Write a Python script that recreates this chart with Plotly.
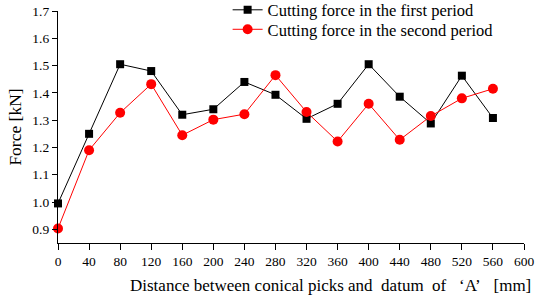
import plotly.graph_objects as go

distance = [0, 40, 80, 120, 160, 200, 240, 280, 320, 360, 400, 440, 480, 520, 560]
first_period = [0.995, 1.25, 1.505, 1.48, 1.32, 1.34, 1.44, 1.393, 1.305, 1.36, 1.505, 1.386, 1.288, 1.463, 1.308]
second_period = [0.903, 1.19, 1.327, 1.432, 1.245, 1.302, 1.322, 1.465, 1.33, 1.222, 1.36, 1.228, 1.315, 1.38, 1.415]
x_ticks = list(range(0, 601, 40))
y_ticks = [0.9, 1.0, 1.1, 1.2, 1.3, 1.4, 1.5, 1.6, 1.7]
y_tick_text = ["0.9", "1.0", "1.1", "1.2", "1.3", "1.4", "1.5", "1.6", "1.7"]

FONT = "Liberation Serif, Times New Roman, serif"

fig = go.Figure()
fig.add_trace(go.Scatter(
    x=distance, y=first_period, mode="lines+markers",
    name="Cutting force in the first period",
    line=dict(color="black", width=1),
    marker=dict(symbol="square", size=8, color="black"),
    cliponaxis=False, legend="legend",
))
fig.add_trace(go.Scatter(
    x=distance, y=second_period, mode="lines+markers",
    name="Cutting force in the second period",
    line=dict(color="red", width=1),
    marker=dict(symbol="circle", size=10, color="red"),
    cliponaxis=False, legend="legend2",
))

legend_common = dict(
    xanchor="left", yanchor="middle", bgcolor="rgba(0,0,0,0)",
    font=dict(family=FONT, size=16.5), itemwidth=30,
)

fig.update_layout(
    width=538, height=298,
    margin=dict(l=58, r=14, t=11, b=55, autoexpand=False),
    paper_bgcolor="white", plot_bgcolor="white",
    font=dict(family=FONT, size=13, color="black"),
    showlegend=True,
    legend=dict(x=0.364, y=1.004, **legend_common),
    legend2=dict(x=0.364, y=0.92, **legend_common),
    xaxis=dict(
        range=[0, 600], tickvals=x_ticks, ticks="outside", ticklen=6,
        tickwidth=1.3, tickcolor="black", showline=True, linecolor="black",
        linewidth=1.3, showgrid=False, zeroline=False,
        tickfont=dict(family=FONT, size=13.5),
    ),
    yaxis=dict(
        range=[0.85, 1.7], tickvals=y_ticks, ticktext=y_tick_text,
        ticks="outside", ticklen=5, tickwidth=1.3, tickcolor="black",
        showline=True, linecolor="black", linewidth=1.3, showgrid=False,
        zeroline=False, tickfont=dict(family=FONT, size=13.5),
        title=dict(text="Force [kN]", font=dict(family=FONT, size=17.5), standoff=6),
    ),
    annotations=[dict(
        text="Distance between conical picks and&nbsp; datum&nbsp; of&nbsp;&nbsp; \u2018A\u2019&nbsp;&nbsp; [mm]",
        xref="paper", yref="paper", x=0.585, y=-0.135, xanchor="center", yanchor="top",
        showarrow=False, font=dict(family=FONT, size=17),
    )],
)

fig.write_html(
    "out.html",
    config={"displayModeBar": False},
    post_script="document.body.style.margin='0px';document.body.style.padding='0px';",
)
